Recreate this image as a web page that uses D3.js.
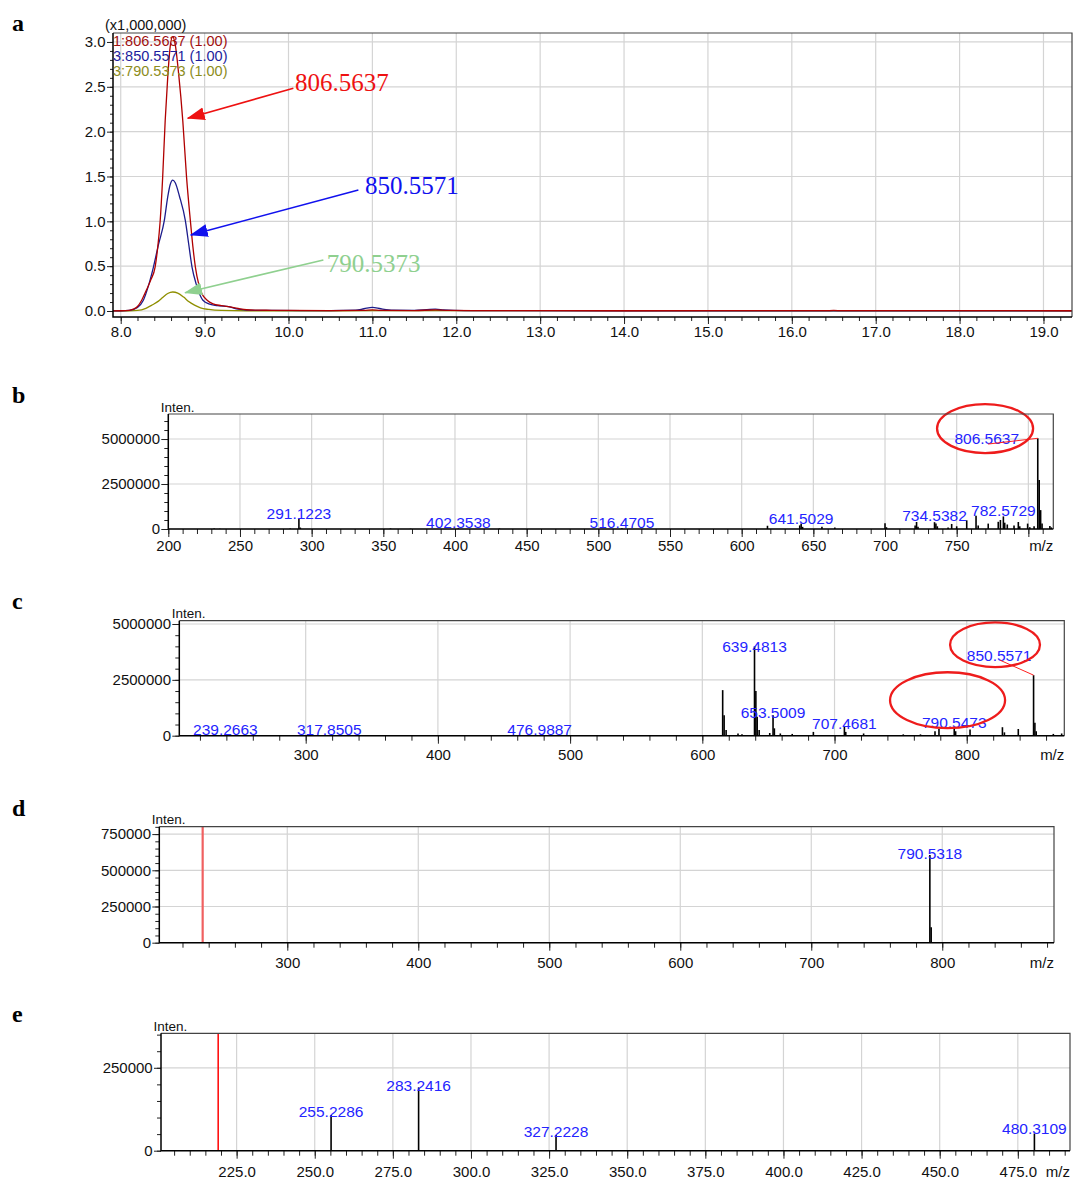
<!doctype html>
<html>
<head>
<meta charset="utf-8">
<script src="https://cdn.jsdelivr.net/npm/d3@7"></script>
<style>
body { margin: 0; background: #fff; }
text { font-family: "Liberation Sans", Arial, sans-serif; }
</style>
</head>
<body>
<script>
// ---------- data ----------
// panel a: extracted ion chromatograms, [time (min), intensity (x1e6)]
var trace806 = [[7.908,0.002],[8.0,0.003],[8.1,0.008],[8.15,0.02],[8.2,0.05],[8.25,0.12],[8.3,0.22],[8.36,0.35],
  [8.41,0.49],[8.44,0.7],[8.47,1.0],[8.5,1.49],[8.53,2.12],[8.56,2.6],[8.59,2.95],[8.62,3.06],[8.65,2.97],
  [8.69,2.65],[8.74,2.12],[8.785,1.49],[8.83,1.01],[8.86,0.72],[8.89,0.49],[8.93,0.3],[8.97,0.19],[9.03,0.12],
  [9.1,0.08],[9.2,0.06],[9.3,0.045],[9.4,0.028],[9.5,0.014],[9.6,0.01],[9.8,0.008],[10.0,0.006],[10.5,0.005],
  [10.9,0.007],[11.0,0.012],[11.1,0.007],[11.5,0.005],[11.75,0.012],[11.9,0.006],[12.2,0.004],[14.0,0.003],
  [16.4,0.004],[16.5,0.006],[16.6,0.004],[19.34,0.003]];
var trace850 = [[7.908,0.001],[8.0,0.002],[8.1,0.008],[8.2,0.04],[8.27,0.12],[8.33,0.28],[8.39,0.49],[8.45,0.74],
  [8.52,1.01],[8.56,1.27],[8.59,1.41],[8.62,1.46],[8.65,1.43],[8.7,1.28],[8.77,1.01],[8.81,0.75],[8.85,0.49],
  [8.9,0.3],[8.98,0.12],[9.05,0.08],[9.15,0.06],[9.3,0.045],[9.4,0.02],[9.5,0.01],[9.8,0.006],[10.5,0.005],
  [10.8,0.01],[10.9,0.025],[11.0,0.04],[11.1,0.025],[11.25,0.01],[11.5,0.008],[11.65,0.015],[11.75,0.02],
  [11.85,0.012],[12.1,0.004],[14.0,0.003],[19.34,0.003]];
var trace790 = [[7.908,0.001],[8.1,0.002],[8.2,0.006],[8.3,0.03],[8.38,0.07],[8.45,0.11],[8.5,0.15],[8.56,0.195],
  [8.62,0.212],[8.68,0.2],[8.75,0.155],[8.81,0.105],[8.88,0.065],[8.95,0.035],[9.05,0.017],[9.2,0.006],
  [9.5,0.003],[10.5,0.002],[11.0,0.004],[19.34,0.002]];
var legendA = ["1:806.5637 (1.00)", "3:850.5571 (1.00)", "3:790.5373 (1.00)"];
// arrows: text, tail [t, v], tip [t, v], text start [t, v]
var arrowsA = [
  ["806.5637", [10.058, 2.484], [8.799, 2.149], [10.078, 2.453]],
  ["850.5571", [10.833, 1.349], [8.835, 0.848], [10.913, 1.305]],
  ["790.5373", [10.416, 0.569], [8.767, 0.204], [10.456, 0.438]]
];

// panel b: full MS, [m/z, intensity]
var peaksB = [[232,30000],[236,20000],[285,30000],[291.12,560000],[292.1,80000],[355,30000],[369,20000],
  [402.35,40000],[431,30000],[516.47,40000],[618,180000],[640.5,200000],[641.5,300000],[642.5,120000],
  [656,120000],[665,90000],[700,320000],[701,100000],[721,200000],[722,390000],[723,120000],[734.54,380000],
  [735.5,300000],[736.5,150000],[744,80000],[746.5,280000],[750,150000],[757,480000],[763.5,740000],
  [765,200000],[772,300000],[779,400000],[780.5,500000],[782.57,700000],[783.5,350000],[785.3,250000],
  [790,200000],[793,390000],[794,150000],[799.5,300000],[801,100000],[804,150000],[806.56,5040000],
  [807.56,2720000],[808.56,1050000],[809.56,300000],[815,170000],[816,90000]];
var labelsB = [["291.1223",291.12,580000],["402.3538",402.35,40000],["516.4705",516.47,60000],
  ["641.5029",641.5,300000],["734.5382",734.54,420000],["782.5729",782.57,740000],["806.5637",771,4720000]];
var leadersB = [[771.9,4720000,806.56,5040000]];
var circlesB = [[769.8,5580000,33.5,1360000]];

// panel c: full MS
var peaksC = [[239.27,20000],[262,20000],[317.85,15000],[476.99,15000],[615.4,2040000],[616.5,920000],
  [618,250000],[627,100000],[630,60000],[639.48,4000000],[640.5,2000000],[641.5,850000],[643,250000],
  [651,120000],[653.5,920000],[654.5,330000],[659,100000],[668,80000],[684,170000],[707.47,400000],
  [708.5,170000],[722,100000],[752,60000],[765,60000],[776,200000],[779,300000],[790.55,350000],
  [791.6,200000],[802.5,280000],[827,380000],[828.5,150000],[839,300000],[850.56,2710000],[851.56,580000],
  [852.56,200000],[865.5,80000],[871.8,100000]];
var labelsC = [["239.2663",239.27,30000],["317.8505",317.85,30000],["476.9887",476.99,30000],
  ["639.4813",639.48,3750000],["653.5009",653.5,780000],["707.4681",707.47,300000],
  ["790.5473",790.55,330000],["850.5571",824.5,3350000]];
var leadersC = [[825.2,3380000,850.56,2710000]];
var circlesC = [[821.4,4070000,34,1000000],[785.5,1590000,43.5,1250000]];

// panel d: MS/MS
var peaksD = [[790.53,606000],[791.53,106000]];
var labelsD = [["790.5318",790.53,578000]];
var precursorD = 235.4;

// panel e: MS/MS
var peaksE = [[255.23,107500],[283.24,191000],[327.22,47000],[480.31,52000]];
var labelsE = [["255.2286",255.23,102000],["283.2416",283.24,181000],["327.2228",327.22,42000],
  ["480.3109",480.31,50000]];
var precursorE = 219.1;

// ---------- drawing ----------
var svg = d3.select("body").append("svg").attr("width", 1073).attr("height", 1179);

function steps(a, b, s) {
  return d3.range(Math.round((b - a) / s) + 1).map(i => +(a + i * s).toFixed(3));
}

function drawPanel(p) {
  var x = d3.scaleLinear().domain(p.xd).range([p.l, p.r]);
  var y = d3.scaleLinear().domain(p.yd).range([p.b, p.t]);
  var g = svg.append("g");
  g.append("g").selectAll("line").data(p.xMaj).join("line")
    .attr("x1", d => x(d)).attr("x2", d => x(d)).attr("y1", p.t).attr("y2", p.b)
    .attr("stroke", "#d4d4d4").attr("stroke-width", 1.2);
  g.append("g").selectAll("line").data(p.yMaj).join("line")
    .attr("y1", d => y(d)).attr("y2", d => y(d)).attr("x1", p.l).attr("x2", p.r)
    .attr("stroke", "#d4d4d4").attr("stroke-width", 1.2);

  var ax = g.append("g").attr("transform", "translate(0," + p.b + ")");
  ax.append("g").call(d3.axisBottom(x).tickValues(p.xMin).tickSize(p.minLen).tickSizeOuter(0).tickFormat(""));
  ax.append("g").call(d3.axisBottom(x).tickValues(p.xMaj).tickSize(p.majLen).tickSizeOuter(0)
    .tickPadding(p.xPad).tickFormat(p.xFmt));
  var ay = g.append("g").attr("transform", "translate(" + p.l + ",0)");
  ay.append("g").call(d3.axisLeft(y).tickValues(p.yMin).tickSize(p.minLen - 1).tickSizeOuter(0).tickFormat(""));
  ay.append("g").call(d3.axisLeft(y).tickValues(p.yMaj).tickSize(p.majLen - 1).tickSizeOuter(0)
    .tickPadding(p.yPad).tickFormat(p.yFmt));
  g.selectAll(".domain").remove();
  g.selectAll(".tick line").attr("stroke", "#222");
  ax.selectAll(".tick text").attr("font-size", p.xfs).attr("fill", "#111")
    .attr("font-family", "'Liberation Sans', Arial, sans-serif");
  ay.selectAll(".tick text").attr("font-size", p.yfs).attr("fill", "#111")
    .attr("font-family", "'Liberation Sans', Arial, sans-serif");

  var plot = g.append("g");
  g.append("path").attr("d", "M" + p.l + "," + p.t + "H" + p.r + "V" + p.b)
    .attr("fill", "none").attr("stroke", "#444").attr("stroke-width", 1.2);
  g.append("path").attr("d", "M" + p.l + "," + p.t + "V" + p.b + "H" + p.r)
    .attr("fill", "none").attr("stroke", "#000").attr("stroke-width", 1.5);

  if (p.mz) {
    g.append("text").attr("x", p.r).attr("y", p.b + p.majLen + p.xPad).attr("dy", "0.71em")
      .attr("text-anchor", "end").attr("font-size", p.xfs).attr("fill", "#111").text("m/z");
    g.append("text").attr("x", p.l - 7.6).attr("y", p.t - 2.5)
      .attr("font-size", 13.5).attr("fill", "#111").text("Inten.");
  }
  svg.append("text").attr("x", 12).attr("y", p.letterY)
    .style("font-family", "'Liberation Serif', 'DejaVu Serif', serif").style("font-weight", "bold")
    .attr("font-size", 24).attr("fill", "#000").text(p.letter);
  return {g: plot, x: x, y: y};
}

function drawSpectrum(P, peaks, labels, leaders, circles, precursor, precColor, precWidth) {
  if (precursor != null) {
    P.g.append("line").attr("x1", P.x(precursor)).attr("x2", P.x(precursor))
      .attr("y1", P.y.range()[1]).attr("y2", P.y.range()[0])
      .attr("stroke", precColor).attr("stroke-width", precWidth);
  }
  P.g.append("g").selectAll("line").data(peaks).join("line")
    .attr("x1", d => P.x(d[0])).attr("x2", d => P.x(d[0]))
    .attr("y1", P.y(0)).attr("y2", d => P.y(d[1]))
    .attr("stroke", "#000").attr("stroke-width", 1.6);
  P.g.append("g").selectAll("text").data(labels).join("text")
    .attr("x", d => P.x(d[1])).attr("y", d => P.y(d[2]))
    .attr("text-anchor", "middle").attr("font-size", 15.5).attr("fill", "#2424ff")
    .text(d => d[0]);
  P.g.append("g").selectAll("line").data(leaders || []).join("line")
    .attr("x1", d => P.x(d[0])).attr("y1", d => P.y(d[1]))
    .attr("x2", d => P.x(d[2])).attr("y2", d => P.y(d[3]))
    .attr("stroke", "#ff2020").attr("stroke-width", 1);
  P.g.append("g").selectAll("ellipse").data(circles || []).join("ellipse")
    .attr("cx", d => P.x(d[0])).attr("cy", d => P.y(d[1]))
    .attr("rx", d => P.x(d[0] + d[2]) - P.x(d[0])).attr("ry", d => P.y(0) - P.y(d[3]))
    .attr("fill", "none").attr("stroke", "#ee1c1c").attr("stroke-width", 2.3);
}

// ----- panel a -----
var A = drawPanel({
  l: 113, r: 1072, t: 33, b: 317, xd: [7.908, 19.34], yd: [-0.0669, 3.1],
  xMaj: steps(8, 19, 1), xMin: steps(8, 19.2, 0.2), yMaj: steps(0, 3, 0.5), yMin: steps(0, 3, 0.1),
  xFmt: d3.format(".1f"), yFmt: d3.format(".1f"), majLen: 7, minLen: 4, xPad: 2, yPad: 1.5,
  xfs: 15, yfs: 15, letter: "a", letterY: 31
});
svg.append("defs").append("clipPath").attr("id", "clipA").append("rect")
  .attr("x", 113).attr("y", 33).attr("width", 959).attr("height", 284);
A.g.attr("clip-path", "url(#clipA)");
var lineA = d3.line().x(d => A.x(d[0])).y(d => A.y(d[1])).curve(d3.curveMonotoneX);
[[trace790, "#8f8f00"], [trace850, "#1c1c8c"], [trace806, "#b00000"]].forEach(function (s) {
  A.g.append("path").datum(s[0]).attr("d", lineA).attr("fill", "none")
    .attr("stroke", s[1]).attr("stroke-width", 1.3);
});
svg.append("text").attr("x", 105).attr("y", 29.5).attr("font-size", 14.5).attr("fill", "#111")
  .text("(x1,000,000)");
svg.append("g").selectAll("text").data(legendA).join("text")
  .attr("x", 113).attr("y", (d, i) => 46 + i * 15)
  .attr("font-size", 14.5).attr("fill", (d, i) => ["#a01010", "#1c1c9c", "#8c8c1c"][i])
  .text(d => d);

var arrowColors = ["#ee1111", "#1111ee", "#8fd08f"];
var defs = svg.select("defs");
arrowColors.forEach(function (c, i) {
  defs.append("marker").attr("id", "head" + i).attr("viewBox", "0 -7 18 14")
    .attr("refX", 17).attr("refY", 0).attr("markerWidth", 18).attr("markerHeight", 14)
    .attr("markerUnits", "userSpaceOnUse").attr("orient", "auto")
    .append("path").attr("d", "M0,-6.5L18,0L0,6.5Z").attr("fill", c);
});
arrowsA.forEach(function (a, i) {
  svg.append("line").attr("x1", A.x(a[1][0])).attr("y1", A.y(a[1][1]))
    .attr("x2", A.x(a[2][0])).attr("y2", A.y(a[2][1]))
    .attr("stroke", arrowColors[i]).attr("stroke-width", 1.6)
    .attr("marker-end", "url(#head" + i + ")");
  svg.append("text").attr("x", A.x(a[3][0])).attr("y", A.y(a[3][1]))
    .style("font-family", "'Liberation Serif', 'DejaVu Serif', serif")
    .attr("font-size", 25).attr("fill", arrowColors[i]).text(a[0]);
});

// ----- panel b -----
var B = drawPanel({
  l: 168.3, r: 1053.3, t: 414, b: 529, xd: [200, 817.4], yd: [0, 6390000],
  xMaj: steps(200, 800, 50), xMin: steps(200, 810, 10), yMaj: [0, 2500000, 5000000], yMin: steps(0, 6000000, 500000),
  xFmt: d => d === 800 ? "" : d, yFmt: d3.format("d"), majLen: 8, minLen: 5, xPad: 3.8, yPad: 1.3,
  xfs: 15, yfs: 15, mz: true, letter: "b", letterY: 403
});
drawSpectrum(B, peaksB, labelsB, leadersB, circlesB);

// ----- panel c -----
var C = drawPanel({
  l: 179.3, r: 1064.3, t: 620.7, b: 735.7, xd: [204.4, 873.8], yd: [0, 5148000],
  xMaj: steps(300, 800, 100), xMin: steps(220, 860, 20), yMaj: [0, 2500000, 5000000], yMin: steps(0, 5000000, 500000),
  xFmt: d3.format("d"), yFmt: d3.format("d"), majLen: 8, minLen: 5, xPad: 6, yPad: 1.3,
  xfs: 15, yfs: 15, mz: true, letter: "c", letterY: 609
});
drawSpectrum(C, peaksC, labelsC, leadersC, circlesC);

// ----- panel d -----
var D = drawPanel({
  l: 159.3, r: 1054, t: 826.7, b: 942.7, xd: [202.3, 885.3], yd: [0, 801000],
  xMaj: steps(300, 800, 100), xMin: steps(220, 880, 20), yMaj: steps(0, 750000, 250000), yMin: steps(0, 800000, 50000),
  xFmt: d3.format("d"), yFmt: d3.format("d"), majLen: 8, minLen: 5, xPad: 7, yPad: 1.3,
  xfs: 15, yfs: 15, mz: true, letter: "d", letterY: 816
});
drawSpectrum(D, peaksD, labelsD, null, null, precursorD, "#f06060", 2.2);

// ----- panel e -----
var E = drawPanel({
  l: 161, r: 1070, t: 1033.3, b: 1150.7, xd: [200.8, 491.7], yd: [0, 354000],
  xMaj: steps(225, 475, 25), xMin: steps(205, 490, 5), yMaj: [0, 250000], yMin: steps(0, 350000, 50000),
  xFmt: d3.format(".1f"), yFmt: d3.format("d"), majLen: 8, minLen: 5, xPad: 7.4, yPad: 1.3,
  xfs: 15, yfs: 15, mz: true, letter: "e", letterY: 1022
});
drawSpectrum(E, peaksE, labelsE, null, null, precursorE, "#ff0000", 1.5);
</script>
</body>
</html>
